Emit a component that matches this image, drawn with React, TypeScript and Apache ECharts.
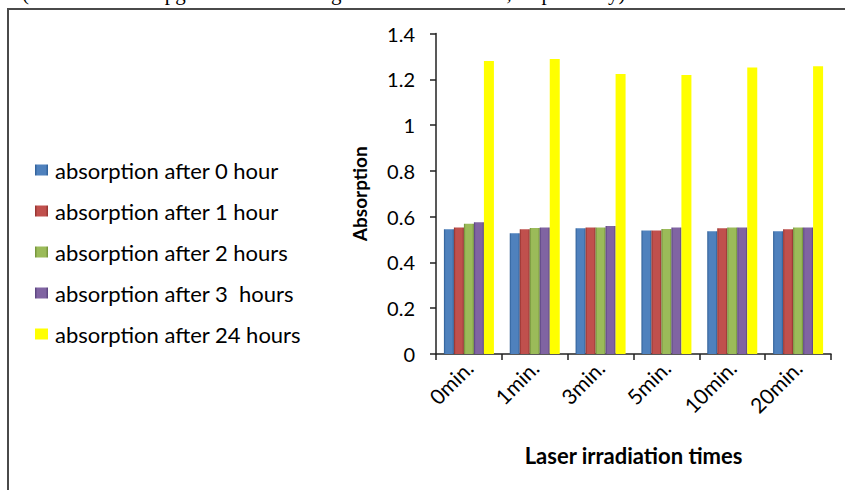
import React, { useEffect, useRef } from "react";
import * as echarts from "echarts";

const categories = ["0min.", "1min.", "3min.", "5min.", "10min.", "20min."];
const seriesNames = [
  "absorption after 0 hour",
  "absorption after 1 hour",
  "absorption after 2 hours",
  "absorption after 3  hours",
  "absorption after 24 hours",
];
const after0h = [0.545, 0.527, 0.549, 0.540, 0.536, 0.536];
const after1h = [0.553, 0.545, 0.553, 0.540, 0.549, 0.545];
const after2h = [0.569, 0.550, 0.553, 0.546, 0.553, 0.553];
const after3h = [0.575, 0.553, 0.559, 0.553, 0.553, 0.553];
const after24h = [1.280, 1.289, 1.223, 1.219, 1.251, 1.257];
const yTicks = [0, 0.2, 0.4, 0.6, 0.8, 1, 1.2, 1.4];

const baseColors = ["#4F81BD", "#C0504D", "#9BBB59", "#8064A2", "#FFFF00"];
const edgeColors = ["#2C5C94", "#8E2F2C", "#6E8C36", "#55407A", "#FFFF00"];

function grad(base: string, edge: string) {
  return new echarts.graphic.LinearGradient(0, 0, 1, 0, [
    { offset: 0, color: edge },
    { offset: 0.18, color: base },
    { offset: 0.82, color: base },
    { offset: 1, color: edge },
  ]);
}

export default function App() {
  const ref = useRef<HTMLDivElement>(null);
  useEffect(() => {
    if (!ref.current) return;
    const chart = echarts.init(ref.current, null, { renderer: "svg" });
    const data = [after0h, after1h, after2h, after3h, after24h];
    const labelFont = "Lato, 'Open Sans', sans-serif";
    chart.setOption({
      animation: false,
      backgroundColor: "#ffffff",
      textStyle: { fontFamily: labelFont },
      graphic: [
        {
          type: "text",
          x: 22,
          y: -7,
          style: {
            text: "(absorbance at 1 pg mL\u207B\u00B9 at the storage times as indicated, respectively)",
            font: "21px 'Liberation Serif', serif",
            fill: "#000",
            verticalAlign: "middle",
          },
        },
        {
          type: "rect",
          shape: { x: 8, y: 9, width: 900, height: 600 },
          style: { fill: "none", stroke: "#4a4a4a", lineWidth: 2 },
          silent: true,
        },
      ],
      legend: {
        orient: "vertical",
        left: 35,
        top: 159,
        padding: 0,
        itemWidth: 13,
        itemHeight: 11,
        itemGap: 19,
        icon: "rect",
        data: seriesNames,
        textStyle: {
          fontFamily: labelFont,
          fontSize: 22,
          lineHeight: 22,
          color: "#000",
          padding: [0, 0, 0, 2],
        },
      },
      grid: { left: 436, right: 14, top: 33.5, bottom: 136, containLabel: false },
      xAxis: {
        type: "category",
        data: categories,
        name: "Laser irradiation times",
        nameLocation: "middle",
        nameGap: 90,
        nameTextStyle: { fontFamily: labelFont, fontSize: 22, fontWeight: "bold", color: "#000" },
        axisLine: { lineStyle: { color: "#222", width: 1.5 } },
        axisTick: { show: true, length: 6, lineStyle: { color: "#222", width: 1.5 } },
        axisLabel: { rotate: 45, fontSize: 21, color: "#000", margin: 10, interval: 0 },
      },
      yAxis: {
        type: "value",
        min: 0,
        max: 1.4,
        interval: 0.2,
        name: "Absorption",
        nameLocation: "middle",
        nameGap: 67,
        nameRotate: 90,
        nameTextStyle: { fontFamily: labelFont, fontSize: 19, fontWeight: "bold", color: "#000" },
        splitLine: { show: false },
        axisLine: { show: true, lineStyle: { color: "#222", width: 1.5 } },
        axisTick: { show: true, length: 6, lineStyle: { color: "#222", width: 1.5 } },
        axisLabel: {
          fontSize: 20,
          color: "#000",
          margin: 21,
          formatter: (v: number) => {
            const t = yTicks.find((x) => Math.abs(x - v) < 1e-6);
            return String(t !== undefined ? t : v);
          },
        },
      },
      series: data.map((d, i) => ({
        name: seriesNames[i],
        type: "bar",
        data: d,
        barWidth: 10,
        barGap: "0%",
        itemStyle: { color: i === 4 ? baseColors[4] : grad(baseColors[i], edgeColors[i]) },
      })),
    });
    return () => chart.dispose();
  }, []);
  return (
    <div
      ref={ref}
      style={{ position: "fixed", left: 0, top: 0, width: 845, height: 490 }}
    />
  );
}
